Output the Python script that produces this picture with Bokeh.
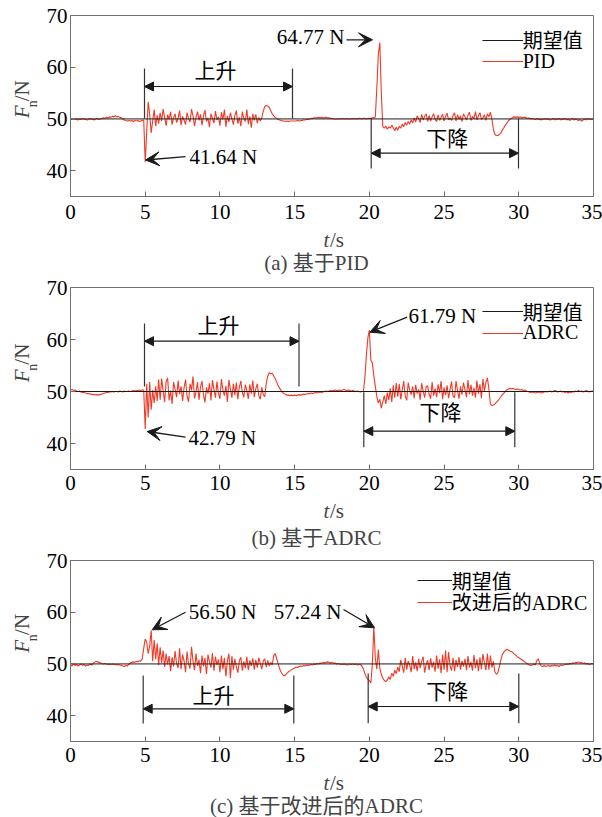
import math
from bokeh.plotting import figure
from bokeh.models import (Label, Arrow, VeeHead, NormalHead, Legend, LegendItem,
                          FixedTicker, Range1d)
from bokeh.layouts import column, row
from bokeh.embed import file_html
from bokeh.resources import INLINE

# ---------------- data ----------------
x_ticks = [0, 5, 10, 15, 20, 25, 30, 35]
y_ticks = [40, 50, 60, 70]
setpoint_t = [0, 35]
setpoint_f = [50, 50]
# sampling grid 0.0 ... 35.0 s, step 0.1 s
t_grid = [round(0.1 * i, 1) for i in range(351)]

f_pid = [
    50.0, 49.9, 50.1, 49.9, 50.0, 49.8, 50.0, 49.9, 50.1, 49.9,
    50.0, 49.8, 49.9, 50.1, 49.9, 50.0, 49.8, 50.0, 50.1, 49.9,
    50.0, 50.1, 50.2, 50.1, 50.3, 50.2, 50.4, 50.3, 50.5, 50.4,
    50.6, 50.4, 50.5, 50.3, 50.2, 50.0, 49.8, 49.7, 49.6, 49.7,
    49.6, 49.7, 49.5, 49.7, 49.6, 49.7, 49.5, 49.6, 49.7, 49.8,
    41.64, 47.5, 53.3, 50.8, 47.3, 49.6, 51.8, 48.6, 50.7, 49.1,
    51.2, 49.6, 51.9, 50.3, 48.7, 50.8, 49.9, 51.4, 48.9, 50.2,
    51.0, 49.3, 50.1, 51.6, 48.8, 50.5, 49.8, 48.9, 51.2, 50.0,
    49.4, 51.9, 50.6, 48.6, 50.3, 51.4, 49.7, 50.9, 48.8, 50.6,
    51.7, 49.5, 50.2, 48.4, 51.0, 50.1, 49.2, 51.5, 49.8, 50.4,
    48.7, 51.3, 49.9, 51.8, 48.5, 50.6, 49.4, 51.2, 50.0, 48.9,
    50.7, 51.6, 49.1, 50.3, 48.6, 51.4, 50.1, 49.5, 51.8, 49.0,
    50.5, 48.3, 51.0, 49.7, 50.9, 49.2, 50.3, 49.6, 50.2, 51.5,
    52.4, 52.6, 52.5, 52.2, 51.6, 51.0, 50.6, 50.3, 50.1, 49.9,
    49.8, 49.7, 49.6, 49.6, 49.5, 49.6, 49.5, 49.6, 49.6, 49.6,
    49.6, 49.6, 49.7, 49.6, 49.7, 49.7, 49.8, 49.8, 49.9, 49.9,
    50.0, 50.1, 50.1, 50.2, 50.2, 50.2, 50.3, 50.2, 50.3, 50.2,
    50.2, 50.3, 50.2, 50.2, 50.1, 50.1, 50.0, 50.0, 50.0, 50.0,
    50.0, 50.0, 50.1, 50.0, 50.0, 50.1, 50.0, 50.0, 50.0, 50.1,
    50.0, 50.1, 50.0, 50.1, 50.1, 50.0, 50.1, 50.1, 50.0, 50.1,
    50.1, 50.1, 50.2, 50.2, 50.4, 56.0, 62.5, 64.77, 55.0, 48.5,
    48.2, 48.6, 48.0, 48.5, 48.2, 48.8, 48.3, 47.7, 48.4, 47.8,
    48.6, 48.2, 49.0, 48.5, 49.3, 48.8, 49.5, 49.0, 49.8, 49.2,
    50.2, 49.4, 50.6, 50.1, 49.3, 50.9, 49.8, 50.5, 51.0, 49.5,
    50.7, 49.6, 50.4, 51.0, 49.9, 49.5, 50.8, 49.7, 50.3, 50.9,
    49.6, 50.5, 51.1, 49.8, 50.2, 49.7, 50.6, 51.2, 49.6, 50.8,
    49.9, 50.6, 49.5, 51.0, 50.4, 49.8, 50.7, 51.3, 49.7, 50.5,
    50.0, 51.4, 49.8, 50.6, 51.2, 49.9, 50.2, 50.8, 49.7, 51.0,
    50.4, 51.3, 50.0, 48.0, 47.0, 46.8, 46.8, 47.0, 47.3, 47.8,
    48.3, 48.8, 49.2, 49.6, 49.9, 50.1, 50.3, 50.4, 50.3, 50.4,
    50.3, 50.4, 50.2, 50.3, 50.3, 50.2, 50.1, 50.2, 50.0, 50.1,
    50.0, 49.9, 50.1, 49.9, 50.0, 49.8, 50.0, 49.9, 50.1, 49.9,
    50.0, 49.8, 49.9, 50.1, 49.8, 50.0, 49.9, 50.1, 49.8, 50.0,
    49.9, 50.1, 49.8, 50.0, 49.7, 49.9, 50.1, 49.8, 50.0, 49.9,
    49.7, 49.9, 49.6, 49.8, 50.0, 49.8, 50.1, 49.9, 50.0, 49.9,
    50.0,
]

f_adrc = [
    50.3, 50.4, 50.2, 50.3, 50.1, 50.0, 50.1, 49.9, 49.8, 49.8,
    49.7, 49.6, 49.6, 49.5, 49.5, 49.4, 49.4, 49.4, 49.3, 49.4,
    49.4, 49.5, 49.6, 49.7, 49.8, 49.8, 49.9, 49.9, 50.0, 49.9,
    50.0, 50.0, 49.9, 50.1, 50.0, 49.9, 50.1, 50.0, 50.0, 50.1,
    50.0, 50.1, 50.2, 50.1, 50.2, 50.2, 50.3, 50.2, 50.3, 50.3,
    42.79, 51.5, 45.0, 51.8, 46.5, 50.3, 47.8, 51.0, 48.2, 52.3,
    48.4, 52.5, 50.1, 48.0, 51.9, 52.6, 48.3, 50.2, 47.6, 51.8,
    50.4, 48.9, 52.1, 49.5, 51.0, 48.2, 50.7, 52.3, 49.1, 48.0,
    51.5, 50.2, 52.9, 48.7, 49.9, 51.8, 48.4, 50.9, 52.0, 49.3,
    47.9, 50.8, 49.6, 51.6, 48.3, 52.2, 50.4, 48.8, 51.9, 49.7,
    48.6, 52.4, 50.3, 49.2, 51.1, 48.0, 52.2, 50.6, 48.8, 51.5,
    49.3, 51.7, 48.5, 50.9, 52.0, 49.8, 48.9, 51.3, 50.2, 48.6,
    51.4, 49.6, 52.1, 48.9, 50.5, 51.5, 49.2, 48.5, 50.8, 49.4,
    49.0, 51.6, 53.0, 53.6, 53.4, 53.5, 53.0, 52.5, 51.8, 51.1,
    50.6, 50.2, 49.8, 49.6, 49.4, 49.3, 49.3, 49.2, 49.3, 49.2,
    49.3, 49.2, 49.3, 49.4, 49.3, 49.4, 49.5, 49.4, 49.5, 49.6,
    49.6, 49.7, 49.6, 49.7, 49.8, 49.7, 49.8, 49.9, 49.8, 49.9,
    50.0, 50.1, 50.0, 50.1, 50.2, 50.1, 50.2, 50.3, 50.2, 50.2,
    50.3, 50.2, 50.3, 50.4, 50.3, 50.2, 50.3, 50.2, 50.1, 50.2,
    50.1, 50.0, 50.1, 50.0, 49.9, 50.0, 50.0, 52.5, 57.0, 60.3,
    61.79, 56.0, 55.5, 53.0, 51.0, 49.0, 47.8, 48.5, 46.8, 48.0,
    49.2, 47.6, 49.8, 48.4, 50.6, 48.0, 51.2, 48.8, 51.6, 49.0,
    51.5, 48.5, 50.3, 52.0, 49.1, 48.3, 51.7, 50.2, 49.4, 51.0,
    48.7, 51.3, 49.6, 50.4, 48.4, 51.6, 50.1, 48.8, 50.9, 51.1,
    49.5, 48.6, 51.8, 49.2, 50.6, 48.9, 51.4, 49.7, 52.0, 48.5,
    50.8, 49.3, 51.2, 48.7, 50.4, 51.9, 49.1, 48.8, 52.0, 50.2,
    48.6, 51.0, 49.4, 51.7, 50.3, 48.9, 52.2, 49.5, 51.3, 49.2,
    50.7, 48.8, 52.1, 49.6, 51.4, 48.7, 52.4, 50.0, 51.8, 52.6,
    50.5, 47.6, 47.3, 47.4, 47.6, 47.9, 48.2, 48.6, 49.0, 49.4,
    49.7, 50.0, 50.3, 50.5, 50.6, 50.5, 50.6, 50.5, 50.4, 50.5,
    50.4, 50.3, 50.4, 50.2, 50.3, 50.1, 50.0, 49.9, 49.8, 49.9,
    49.8, 49.7, 49.8, 49.9, 49.8, 49.7, 49.8, 49.9, 50.0, 49.9,
    50.0, 50.1, 49.9, 50.0, 50.2, 50.1, 49.9, 50.0, 50.1, 49.9,
    50.0, 49.8, 50.0, 49.7, 49.9, 49.8, 50.0, 49.9, 50.1, 50.0,
    50.2, 50.0, 50.1, 49.9, 50.0, 50.2, 50.1, 49.9, 50.0, 50.1,
    50.0,
]

f_adrc_improved = [
    49.8, 49.6, 50.0, 49.7, 49.9, 49.6, 49.8, 50.0, 49.7, 49.9,
    49.6, 49.8, 49.7, 50.0, 49.8, 50.0, 50.3, 50.5, 50.4, 50.3,
    50.2, 50.1, 50.0, 50.1, 50.0, 49.9, 50.0, 49.9, 50.0, 49.9,
    49.9, 49.8, 49.9, 49.8, 49.7, 49.6, 49.5, 49.7, 49.6, 49.9,
    50.2, 50.3, 50.4, 50.3, 50.5, 50.4, 50.6, 50.5, 51.0, 53.0,
    54.8, 54.2, 52.0, 53.5, 56.5, 50.5, 54.6, 50.9, 54.0, 49.8,
    53.2, 50.2, 52.6, 49.4, 52.0, 49.9, 51.5, 48.6, 51.3, 49.5,
    52.5, 50.1, 49.2, 53.0, 49.0, 51.8, 50.6, 48.4, 52.4, 50.0,
    49.1, 53.3, 50.5, 48.8, 52.0, 49.6, 50.8, 48.2, 51.6, 49.5,
    51.2, 48.0, 51.8, 50.4, 49.3, 52.1, 48.7, 51.4, 49.8, 50.9,
    48.4, 51.6, 49.0, 51.2, 47.6, 50.6, 52.0, 47.3, 51.5, 48.9,
    51.0, 49.4, 48.3, 50.6, 51.3, 48.7, 50.5, 49.2, 51.4, 48.8,
    50.7, 49.6, 51.1, 48.9, 50.8, 49.3, 51.2, 50.1, 49.0, 50.6,
    51.0, 49.4, 50.7, 49.6, 50.3, 49.8, 51.6, 52.0, 51.0, 50.0,
    49.0, 48.4, 47.9, 47.7, 47.9, 48.2, 48.5, 48.7, 48.9, 49.1,
    49.2, 49.4, 49.3, 49.5, 49.6, 49.5, 49.7, 49.6, 49.8, 49.7,
    49.8, 49.9, 49.8, 50.0, 49.9, 50.1, 50.0, 50.2, 50.1, 50.3,
    50.2, 50.3, 50.4, 50.3, 50.2, 50.3, 50.1, 50.2, 50.0, 50.1,
    50.0, 49.9, 50.0, 49.9, 50.0, 49.8, 49.9, 50.0, 49.9, 50.0,
    49.9, 50.0, 49.8, 49.9, 49.9, 49.6, 49.0, 48.2, 47.4, 47.0,
    46.8, 46.3, 50.0, 57.24, 51.0, 49.0, 52.8, 49.2, 48.0, 47.2,
    46.8, 46.6, 46.9, 47.5, 47.0, 48.2, 47.6, 48.8, 48.1, 49.4,
    48.5, 50.8, 49.6, 48.3, 51.2, 48.9, 50.6, 49.8, 48.4, 51.5,
    49.0, 50.3, 48.6, 51.0, 49.2, 50.5, 51.4, 48.3, 49.9, 50.7,
    48.8, 51.1, 49.3, 50.4, 48.5, 51.6, 49.1, 50.9, 48.2, 51.8,
    48.9, 52.6, 48.4, 52.3, 49.6, 48.7, 51.2, 48.6, 50.8, 49.4,
    51.3, 48.9, 50.6, 49.5, 51.0, 48.8, 51.5, 49.3, 50.4, 48.7,
    51.7, 49.2, 50.9, 48.6, 51.3, 49.0, 51.9, 50.2, 48.8, 52.0,
    48.9, 51.6, 49.3, 50.5, 48.5, 48.0, 48.3, 49.5, 50.8, 51.8,
    52.3, 52.6, 52.8, 52.7, 52.5, 52.4, 52.2, 51.9, 51.7, 51.4,
    51.2, 51.0, 50.8, 50.6, 50.4, 50.2, 50.0, 49.8, 49.7, 49.8,
    50.0, 49.8, 50.6, 51.0, 50.2, 49.6, 49.5, 49.7, 49.5, 49.6,
    49.7, 49.5, 49.7, 49.6, 49.8, 49.6, 49.7, 49.5, 49.8, 49.7,
    49.8, 49.9, 50.0, 49.9, 50.1, 50.0, 50.2, 50.1, 50.3, 50.2,
    50.4, 50.2, 50.3, 50.1, 50.2, 50.0, 50.1, 49.9, 50.0, 50.1,
    50.0,
]

series_names = ["PID", "ADRC", "改进后的ADRC"]
captions = ["(a) 基于PID", "(b) 基于ADRC", "(c) 基于改进后的ADRC"]
peak_texts = [["41.64 N", "64.77 N"], ["42.79 N", "61.79 N"], ["56.50 N", "57.24 N"]]
setpoint_name = "期望值"

# ---------------- style / layout ----------------
SERIF = "Liberation Serif, Noto Sans CJK SC"
FS = "21px"
LEG_FS = "20px"
RED = "#f03a26"
INK = "#1a1a1a"
AXIS = "#707070"
PAGE_W = 602
PAGE_H = 817
YLAB_W = 42          # narrow canvas left of each panel for the y title
FRAME_L = 70.0       # page px
FRAME_R = 593.0
MAIN_W = PAGE_W - YLAB_W
LEG_ITEM_H = 36      # fixed legend item height


def tx(px):
    return (px - FRAME_L) * 35.0 / (FRAME_R - FRAME_L)


layouts = [
    dict(page_top=0, top=15, frame_h=181, ax_bottom=31, standoff=8,
         rise=dict(xl=144, xr=292, yt=68, yb=118, ya=86, tx=215, ty=70),
         fall=dict(xl=370.7, xr=518, yt=118, yb=168, ya=152.7, tx=446.7, ty=138),
         peaks=[dict(x=189, y=156.7, align="left", tail=(185, 156.2), tip=(145, 159.5)),
                dict(x=344, y=36.7, align="right", tail=(346, 39.3), tip=(372, 39.3))],
         ts_y=239, cap_y=262, ylab=129, leg_x=481.7, leg_y=(39.5, 61), glyph_w=41),
    dict(page_top=275, top=12, frame_h=182, ax_bottom=29, standoff=6,
         rise=dict(xl=144, xr=298.5, yt=323, yb=386, ya=340.7, tx=218, ty=325),
         fall=dict(xl=363.3, xr=514.3, yt=391.7, yb=446.7, ya=430.7, tx=440, ty=412.7),
         peaks=[dict(x=188, y=437.7, align="left", tail=(185, 436.7), tip=(146.7, 431)),
                dict(x=408, y=315, align="left", tail=(406.7, 316.7), tip=(369.3, 331.7))],
         ts_y=510, cap_y=537, ylab=391, leg_x=481.7, leg_y=(311, 332.5), glyph_w=41),
    dict(page_top=550, top=10, frame_h=181, ax_bottom=29, standoff=6,
         rise=dict(xl=142.7, xr=293.3, yt=675, yb=723, ya=708.3, tx=213, ty=695),
         fall=dict(xl=367.7, xr=518.3, yt=673, yb=722.7, ya=706, tx=446.7, ty=691.7),
         peaks=[dict(x=188.3, y=611.7, align="left", tail=(185, 611.7), tip=(151.7, 629.3)),
                dict(x=341, y=611.7, align="right", tail=(343, 609), tip=(374, 627.3))],
         ts_y=782, cap_y=805, ylab=662, leg_x=416.7, leg_y=(580.2, 601.7), glyph_w=35),
]


def text_canvas(width, height, page_left, page_top):
    """A blank canvas whose data coordinates equal page pixels (for titles/captions)."""
    c = figure(width=width, height=height,
               x_range=Range1d(page_left, page_left + width),
               y_range=Range1d(page_top + height, page_top),
               output_backend="svg", toolbar_location=None, min_border=0,
               x_axis_location=None, y_axis_location=None)
    c.grid.visible = False
    c.outline_line_color = None
    c.background_fill_color = "white"
    c.border_fill_color = "white"
    return c


def make_panel(i, f_vals):
    L = layouts[i]
    main_h = L["top"] + L["frame_h"] + L["ax_bottom"]
    next_top = layouts[i + 1]["page_top"] if i + 1 < len(layouts) else PAGE_H
    cap_h = next_top - (L["page_top"] + main_h)
    ft = L["page_top"] + L["top"]
    fb = ft + L["frame_h"]

    def vy(py):
        return 35.0 + (fb - py) * 35.0 / (fb - ft)

    p = figure(width=MAIN_W, height=main_h, x_range=Range1d(0, 35), y_range=Range1d(35, 70),
               output_backend="svg", toolbar_location=None,
               min_border_left=int(FRAME_L - YLAB_W), min_border_right=int(PAGE_W - FRAME_R),
               min_border_top=L["top"], min_border_bottom=L["ax_bottom"])
    p.grid.visible = False
    p.outline_line_color = AXIS
    p.outline_line_width = 1
    p.background_fill_color = "white"
    p.border_fill_color = "white"
    p.xaxis.ticker = FixedTicker(ticks=x_ticks)
    p.yaxis.ticker = FixedTicker(ticks=y_ticks)
    for ax in (p.xaxis[0], p.yaxis[0]):
        ax.axis_line_color = AXIS
        ax.major_tick_line_color = AXIS
        ax.major_tick_in = 5
        ax.major_tick_out = 0
        ax.minor_tick_line_color = None
        ax.major_label_text_font = SERIF
        ax.major_label_text_font_size = FS
        ax.major_label_text_color = "black"
    p.xaxis.major_label_standoff = L["standoff"]
    p.yaxis.major_label_standoff = 3

    r_red = p.line(t_grid, f_vals, line_color=RED, line_width=1.1)
    r_blk = p.line(setpoint_t, setpoint_f, line_color=INK, line_width=1)

    # brackets for the rise / fall phases
    for key, txt in (("rise", "上升"), ("fall", "下降")):
        b = L[key]
        p.segment(x0=[tx(b["xl"]), tx(b["xr"])], y0=[vy(b["yt"])] * 2,
                  x1=[tx(b["xl"]), tx(b["xr"])], y1=[vy(b["yb"])] * 2,
                  line_color="#333333", line_width=1.2)
        p.add_layout(Arrow(x_start=tx(b["xl"]), y_start=vy(b["ya"]), x_end=tx(b["xr"]), y_end=vy(b["ya"]),
                           line_color=INK, line_width=1.2,
                           start=NormalHead(size=9, fill_color=INK, line_color=INK),
                           end=NormalHead(size=9, fill_color=INK, line_color=INK)))
        p.add_layout(Label(x=tx(b["tx"]), y=vy(b["ty"]), text=txt, text_font=SERIF,
                           text_font_size=FS, text_align="center", text_baseline="middle",
                           text_color="black"))

    # peak annotations
    for pk, txt in zip(L["peaks"], peak_texts[i]):
        p.add_layout(Label(x=tx(pk["x"]), y=vy(pk["y"]), text=txt, text_font=SERIF,
                           text_font_size=FS, text_align=pk["align"], text_baseline="middle",
                           text_color="black"))
        p.add_layout(Arrow(x_start=tx(pk["tail"][0]), y_start=vy(pk["tail"][1]),
                           x_end=tx(pk["tip"][0]), y_end=vy(pk["tip"][1]),
                           line_color=INK, line_width=1.3,
                           end=VeeHead(size=14, fill_color=INK, line_color=INK)))

    # legend: one single-item legend per entry, for exact row placement
    for label, rend, yc in ((setpoint_name, r_blk, L["leg_y"][0]),
                            (series_names[i], r_red, L["leg_y"][1])):
        lg = Legend(items=[LegendItem(label=label, renderers=[rend])],
                    location=(L["leg_x"] - FRAME_L, fb - (yc + LEG_ITEM_H / 2)),
                    glyph_width=L["glyph_w"], glyph_height=LEG_ITEM_H, label_height=LEG_ITEM_H,
                    label_standoff=0, spacing=0, padding=0, margin=0,
                    border_line_alpha=0, background_fill_alpha=0,
                    label_text_font=SERIF, label_text_font_size=LEG_FS, label_text_color="black")
        p.add_layout(lg)

    # y title canvas (rotated F_n/N)
    yl = text_canvas(YLAB_W, main_h, 0, L["page_top"])
    s = L["ylab"]
    yl.add_layout(Label(x=21, y=s, text="F", text_font=SERIF, text_font_size=FS,
                        text_font_style="italic", text_align="left", text_baseline="middle",
                        angle=math.pi / 2))
    yl.add_layout(Label(x=32, y=s - 14, text="n", text_font=SERIF, text_font_size="14px",
                        text_align="left", text_baseline="middle", angle=math.pi / 2))
    yl.add_layout(Label(x=21, y=s - 21.5, text="/N", text_font=SERIF, text_font_size=FS,
                        text_align="left", text_baseline="middle", angle=math.pi / 2))

    # x title and caption canvas
    cap = text_canvas(PAGE_W, cap_h, 0, L["page_top"] + main_h)
    cap.add_layout(Label(x=323, y=L["ts_y"], text="t", text_font=SERIF, text_font_size=FS,
                         text_font_style="italic", text_align="left", text_baseline="middle"))
    cap.add_layout(Label(x=329.5, y=L["ts_y"], text="/s", text_font=SERIF, text_font_size=FS,
                         text_align="left", text_baseline="middle"))
    cap.add_layout(Label(x=316, y=L["cap_y"], text=captions[i], text_font=SERIF,
                         text_font_size=FS, text_align="center", text_baseline="middle"))

    return column(row(yl, p, spacing=0), cap, spacing=0)


panels = [make_panel(0, f_pid), make_panel(1, f_adrc), make_panel(2, f_adrc_improved)]
layout = column(*panels, spacing=0)

with open("out.html", "w") as fh:
    fh.write(file_html(layout, INLINE))
